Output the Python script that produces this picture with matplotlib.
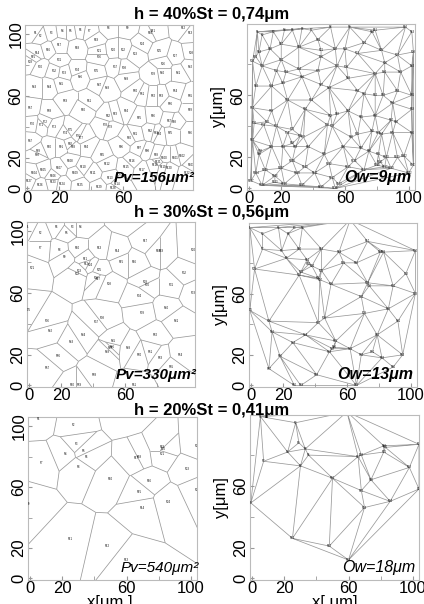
import numpy as np
import matplotlib
matplotlib.use("Agg")
import matplotlib.pyplot as plt
import matplotlib.tri as mtri
from matplotlib.collections import LineCollection

plt.rcParams['font.family'] = ['Liberation Sans', 'DejaVu Sans']

# grain centres, x / y in um
x40 = [5, 8, 15, 22, 27, 33, 39, 51, 63, 77, 79, 98, 102, 6, 4, 13, 20, 31, 43, 54, 45, 60, 68, 72, 83, 85, 93, 103,
       2, 8, 20, 17, 23, 31, 43, 45, 55, 61, 79, 85, 95, 102, 4, 14, 21, 33, 45, 50, 62, 68, 72, 79, 84, 93, 102, 90,
       2, 14, 24, 35, 39, 51, 55, 62, 70, 79, 89, 92, 102, 3, 9, 11, 17, 24, 27, 32, 34, 49, 52, 64, 68, 77, 81, 83,
       90, 102, 2, 6, 7, 14, 21, 27, 29, 37, 47, 59, 70, 75, 81, 86, 93, 97, 103, 4, 10, 16, 20, 27, 30, 35, 41, 50,
       52, 56, 62, 66, 72, 80, 85, 89, 82, 100, 16, 22, 33, 8, 1, 54, 45]
y40 = [101, 99, 101, 102, 102, 103, 102, 104, 104, 101, 102, 104, 101, 88, 85, 90, 93, 91, 96, 90, 89, 90, 87, 94, 89,
       81, 86, 88, 82, 79, 83, 76, 75, 77, 76, 85, 79, 78, 74, 75, 75, 79, 66, 66, 68, 72, 67, 65, 71, 63, 61, 60, 60,
       63, 60, 55, 52, 50, 57, 51, 57, 47, 48, 50, 46, 47, 44, 43, 51, 42, 41, 43, 40, 36, 38, 34, 33, 41, 40, 33, 35,
       37, 36, 35, 36, 36, 31, 22, 24, 27, 27, 29, 27, 27, 22, 27, 26, 24, 22, 20, 20, 21, 15, 10, 12, 8, 13, 18, 10,
       14, 10, 16, 7, 3, 14, 18, 12, 15, 14, 13, 17, 10, 4, 3, 2, 2, 5, 0, 1]

x30 = [-1, 7, 27, 32, 23, 17, 7, 19, 22, 30, 35, 36, 44, 55, 58, 66, 73, 81, 83, 103, 2, 30, 31, 38, 44, 42, 43, 50,
       73, 74, 89, 97, 103, 69, -1, 11, 42, 46, 71, 86, 92, 13, 26, 34, 53, 52, 51, 49, 62, 69, 76, 79, 82, 95, 89,
       18, 11, 41, 31, 27, 66, 62]
y30 = [103, 99, 103, 103, 99, 103, 89, 88, 83, 89, 82, 79, 89, 87, 80, 80, 94, 87, 87, 88, 76, 72, 74, 78, 75, 70,
       69, 66, 67, 65, 65, 73, 60, 58, 49, 42, 41, 44, 47, 50, 42, 35, 28, 33, 29, 25, 24, 22, 24, 20, 22, 33, 18,
       20, 12, 19, 11, 7, 0, 0, 0, 108]

x20 = [5, 27, 29, 22, 33, 35, 7, 30, -1, 50, 25, 48, 60, 70, 68, 74, 66, 68, 82, 83, 82, 104, 98, 86, 104, 59]
y20 = [105, 101, 88, 82, 84, 80, 76, 73, 49, 65, 26, 21, 12, 46, 57, 64, 79, 80, 86, 85, 82, 87, 72, 50, 58, 108]

titles = ["h = 40%St = 0,74μm", "h = 30%St = 0,56μm", "h = 20%St = 0,41μm"]
pv_labels = ["Pv=156μm²", "Pv=330μm²", "Pv=540μm²"]
ow_labels = ["Ow=9μm", "Ow=13μm", "Ow=18μm"]
tick_vals = [0, 20, 60, 100]

LINE = "#999999"


def voronoi_segments(x, y):
    px, py = np.asarray(x, float), np.asarray(y, float)
    tri = mtri.Triangulation(px, py)
    t = tri.triangles
    ax_, ay_ = px[t[:, 0]], py[t[:, 0]]
    bx, by = px[t[:, 1]], py[t[:, 1]]
    cx, cy = px[t[:, 2]], py[t[:, 2]]
    d = 2 * (ax_ * (by - cy) + bx * (cy - ay_) + cx * (ay_ - by))
    ux = ((ax_**2 + ay_**2) * (by - cy) + (bx**2 + by**2) * (cy - ay_) + (cx**2 + cy**2) * (ay_ - by)) / d
    uy = ((ax_**2 + ay_**2) * (cx - bx) + (bx**2 + by**2) * (ax_ - cx) + (cx**2 + cy**2) * (bx - ax_)) / d
    segs = []
    for i in range(len(t)):
        for j in range(3):
            n = tri.neighbors[i, j]
            a, b, c = t[i, j], t[i, (j + 1) % 3], t[i, (j + 2) % 3]
            if n >= 0:
                if n > i:
                    segs.append([(ux[i], uy[i]), (ux[n], uy[n])])
            else:
                ex, ey = px[b] - px[a], py[b] - py[a]
                nx, ny = ey, -ex
                mx, my = (px[a] + px[b]) / 2, (py[a] + py[b]) / 2
                if (px[c] - mx) * nx + (py[c] - my) * ny > 0:
                    nx, ny = -nx, -ny
                L = np.hypot(nx, ny)
                segs.append([(ux[i], uy[i]), (ux[i] + nx / L * 500, uy[i] + ny / L * 500)])
    return tri, segs


def style(ax, xt, yt):
    ax.set_xlim(-1.5, 104)
    ax.set_ylim(-1, 106)
    ax.set_xticks(xt)
    ax.set_yticks(yt)
    ax.set_xticks([40, 80], minor=True)
    ax.set_yticks([40, 80], minor=True)
    ax.tick_params(which='both', direction='in', length=3, color='#999999', labelsize=12, pad=1)
    for lab in ax.get_yticklabels():
        lab.set_rotation(90)
        lab.set_va('center')
    for s in ax.spines.values():
        s.set_color('#bbbbbb')
        s.set_linewidth(0.8)


def labels(ax, x, y):
    for k, (a, b) in enumerate(zip(x, y)):
        ax.text(a, b, "P%d" % (k + 1), fontsize=2, ha='center', va='center', clip_on=True)


fig = plt.figure(figsize=(4.24, 6.04), dpi=100)
W, H = 424.0, 604.0
boxes = [((25, 193, 25, 190), (247, 415, 24, 190)),
         ((27, 195, 222, 387), (249, 417, 223, 387)),
         ((28, 197, 417, 580), (250, 419, 415, 580))]
title_y = [14, 213, 410]
sets = [(x40, y40), (x30, y30), (x20, y20)]

for r in range(3):
    x, y = sets[r]
    tri, segs = voronoi_segments(x, y)
    (l1, r1, t1, b1), (l2, r2, t2, b2) = boxes[r]
    axl = fig.add_axes([l1 / W, 1 - b1 / H, (r1 - l1) / W, (b1 - t1) / H])
    axr = fig.add_axes([l2 / W, 1 - b2 / H, (r2 - l2) / W, (b2 - t2) / H])

    axl.add_collection(LineCollection(segs, colors=LINE, linewidths=0.55))
    labels(axl, x, y)
    style(axl, tick_vals if r == 2 else [0, 20, 60], tick_vals)

    axr.triplot(tri, color=LINE, lw=0.55)
    labels(axr, x, y)
    style(axr, tick_vals, [0, 20, 60])
    axr.set_ylabel("y[μm]", fontsize=12, labelpad=3)

    w = 'normal' if r == 2 else 'bold'
    axl.text(1.01, 0.03, pv_labels[r], transform=axl.transAxes, ha='right', va='bottom',
             fontsize=11, fontstyle='italic', fontweight=w)
    axr.text(0.98, 0.03, ow_labels[r], transform=axr.transAxes, ha='right', va='bottom',
             fontsize=11.5, fontstyle='italic', fontweight=w)
    fig.text(0.5, 1 - title_y[r] / H, titles[r], ha='center', va='center',
             fontsize=12, fontweight='bold')

fig.text(110 / W, 1 - 595 / H, "x[μm ]", ha='center', va='top', fontsize=12)
fig.text(335 / W, 1 - 595 / H, "x[ μm]", ha='center', va='top', fontsize=12)

fig.savefig("out.png", dpi=100)
